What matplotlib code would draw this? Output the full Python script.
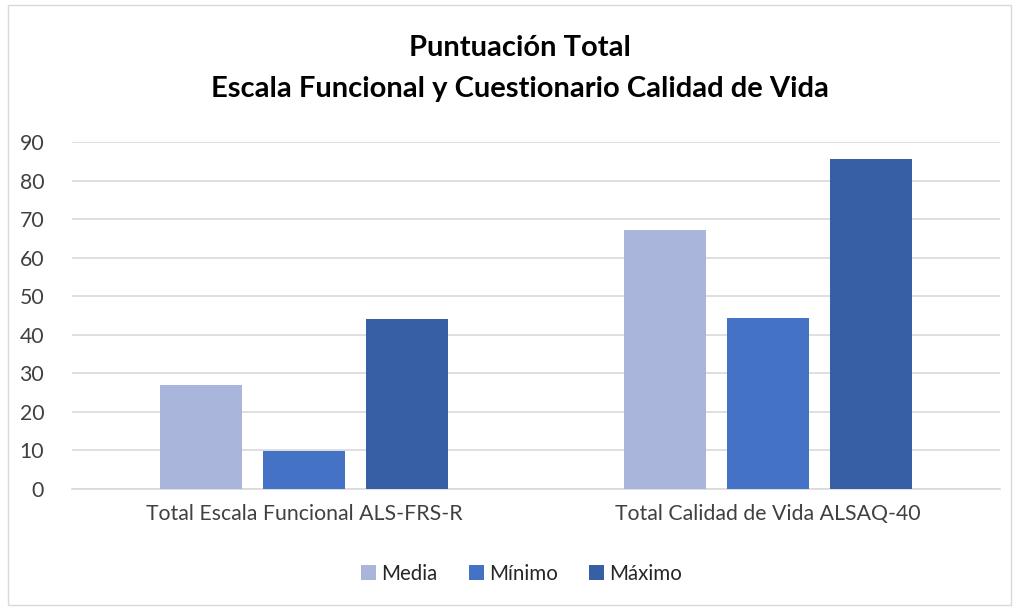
import numpy as np
import matplotlib
matplotlib.use("Agg")
import matplotlib.pyplot as plt
from matplotlib.patches import Rectangle

# Data
categories = ["Total Escala Funcional ALS-FRS-R", "Total Calidad de Vida ALSAQ-40"]
series_names = ["Media", "Mínimo", "Máximo"]
media = [27, 67.1]
minimo = [9.8, 44.4]
maximo = [44, 85.5]
colors = ["#A9B5DA", "#4472C4", "#365FA5"]

plt.rcParams["font.family"] = ["Lato", "DejaVu Sans"]

fig = plt.figure(figsize=(10.19, 6.07), dpi=100)
ax = fig.add_axes([72 / 1019, 1 - 489 / 607, 928 / 1019, 347 / 607])

x = np.arange(len(categories))
step = 0.222
width = 0.175
for j, (name, vals, c) in enumerate(zip(series_names, [media, minimo, maximo], colors)):
    ax.bar(x + (j - 1) * step, vals, width, color=c, label=name, zorder=3)

ax.set_xlim(-0.5, 1.5)
ax.set_ylim(0, 90)
ax.set_yticks(range(0, 91, 10))
ax.set_xticks(x)
ax.set_xticklabels(categories)
ax.grid(axis="y", color="#D9D9D9", linewidth=1.2, zorder=0)
for s in ["top", "right", "left"]:
    ax.spines[s].set_visible(False)
ax.spines["bottom"].set_color("#D9D9D9")
ax.spines["bottom"].set_linewidth(1.2)
ax.tick_params(axis="both", length=0, labelsize=15.3, colors="#404040")
ax.tick_params(axis="y", pad=20)
ax.tick_params(axis="x", pad=11)

fig.text(0.51, 1 - 48 / 607, "Puntuación Total", ha="center", va="center",
         fontsize=21, fontweight="bold", color="#000000")
fig.text(0.51, 1 - 89 / 607, "Escala Funcional y Cuestionario Calidad de Vida",
         ha="center", va="center", fontsize=21, fontweight="bold", color="#000000")

leg = fig.legend(loc="center", bbox_to_anchor=(0.512, 1 - 574 / 607), ncol=3, frameon=False,
                 fontsize=14.8, handlelength=0.75, handleheight=0.75, handletextpad=0.25,
                 columnspacing=1.5)
for t in leg.get_texts():
    t.set_color("#262626")

# outer chart border
fig.patches.append(Rectangle((8 / 1019, 2 / 607), 1003 / 1019, 600 / 607,
                             transform=fig.transFigure, fill=False,
                             edgecolor="#D9D9D9", linewidth=1))

fig.savefig("out.png", dpi=100, facecolor="white")
